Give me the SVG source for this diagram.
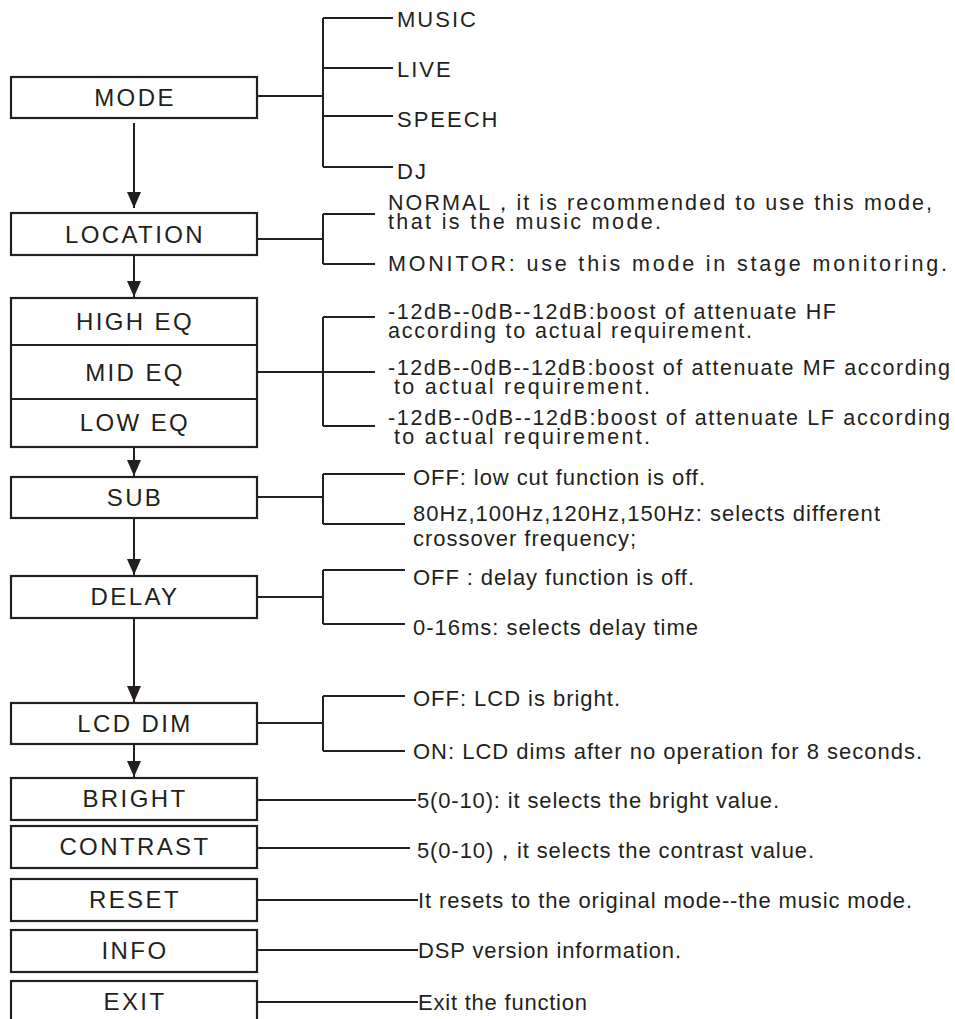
<svg xmlns="http://www.w3.org/2000/svg" width="955" height="1019" viewBox="0 0 955 1019">
<defs>
<marker id="ah" markerUnits="userSpaceOnUse" markerWidth="16" markerHeight="18" refX="16" refY="7" orient="auto">
<path d="M0,0 L16,7 L0,14 Z" fill="#231f20"/>
</marker>
<style>
.box{fill:#fff;stroke:#231f20;stroke-width:2.2}
.ln{fill:none;stroke:#231f20;stroke-width:2}
.lbl{font-family:"Liberation Sans",Arial,sans-serif;font-size:24px;letter-spacing:2.4px;fill:#231f20;text-anchor:middle}
.opt{font-family:"Liberation Sans",Arial,sans-serif;font-size:22px;letter-spacing:2px;fill:#231f20}
.t1{font-family:"Liberation Sans",Arial,sans-serif;font-size:21.5px;fill:#231f20}
.t2{font-family:"Liberation Sans",Arial,sans-serif;font-size:22px;fill:#231f20}
</style>
</defs>
<rect width="955" height="1019" fill="#fff"/>

<g id="connectors">
<path class="ln" d="M134,123 V208" marker-end="url(#ah)"/>
<path class="ln" d="M134,255 V297" marker-end="url(#ah)"/>
<path class="ln" d="M134,447 V476" marker-end="url(#ah)"/>
<path class="ln" d="M134,518 V575" marker-end="url(#ah)"/>
<path class="ln" d="M134,618 V702" marker-end="url(#ah)"/>
<path class="ln" d="M134,744 V777" marker-end="url(#ah)"/>

<path class="ln" d="M257,96 H323 M323,18 V167 M323,18 H393 M323,68 H393 M323,116 H393 M323,167 H393"/>
<path class="ln" d="M257,239 H323 M323,214 V264 M323,214 H375 M323,264 H375"/>
<path class="ln" d="M257,372 H375 M323,317 V426 M323,317 H375 M323,426 H375"/>
<path class="ln" d="M257,497 H323 M323,474 V524 M323,474 H405 M323,524 H405"/>
<path class="ln" d="M257,597 H323 M323,570 V624 M323,570 H405 M323,624 H405"/>
<path class="ln" d="M257,723 H323 M323,696 V751 M323,696 H405 M323,751 H405"/>
<path class="ln" d="M257,800 H416"/>
<path class="ln" d="M257,848 H410"/>
<path class="ln" d="M257,900 H418"/>
<path class="ln" d="M257,950 H418"/>
<path class="ln" d="M257,1002 H418"/>
</g>

<g id="mode">
<rect class="box" x="11" y="77" width="246" height="41"/>
<text class="lbl" x="135" y="106">MODE</text>
<text class="opt" x="397" y="27">MUSIC</text>
<text class="opt" x="397" y="77">LIVE</text>
<text class="opt" x="397" y="127">SPEECH</text>
<text class="opt" x="397" y="179">DJ</text>
</g>

<g id="location">
<rect class="box" x="11" y="213" width="246" height="42"/>
<text class="lbl" x="135" y="243">LOCATION</text>
<text class="t1" x="388" y="210" textLength="544">NORMAL，it is recommended to use this mode,</text>
<text class="t1" x="388" y="229" textLength="273">that is the music mode.</text>
<text class="t1" x="388" y="271" textLength="559">MONITOR: use this mode in stage monitoring.</text>
</g>

<g id="eq">
<rect class="box" x="11" y="298" width="246" height="149"/>
<path class="ln" d="M11,345 H257 M11,399 H257"/>
<text class="lbl" x="135" y="330">HIGH EQ</text>
<text class="lbl" x="135" y="381">MID EQ</text>
<text class="lbl" x="135" y="431">LOW EQ</text>
<text class="t1" x="388" y="319" textLength="448">-12dB--0dB--12dB:boost of attenuate HF</text>
<text class="t1" x="388" y="338" textLength="364">according to actual requirement.</text>
<text class="t1" x="388" y="375" textLength="562">-12dB--0dB--12dB:boost of attenuate MF according</text>
<text class="t1" x="394" y="394" textLength="256">to actual requirement.</text>
<text class="t1" x="388" y="425" textLength="562">-12dB--0dB--12dB:boost of attenuate LF according</text>
<text class="t1" x="394" y="444" textLength="256">to actual requirement.</text>
</g>

<g id="sub">
<rect class="box" x="11" y="477" width="246" height="41"/>
<text class="lbl" x="135" y="506">SUB</text>
<text class="t2" x="413" y="485" textLength="292">OFF: low cut function is off.</text>
<text class="t2" x="413" y="521" textLength="467">80Hz,100Hz,120Hz,150Hz: selects different</text>
<text class="t2" x="413" y="546" textLength="223">crossover frequency;</text>
</g>

<g id="delay">
<rect class="box" x="11" y="576" width="246" height="42"/>
<text class="lbl" x="135" y="605">DELAY</text>
<text class="t2" x="413" y="585" textLength="281">OFF : delay function is off.</text>
<text class="t2" x="413" y="635" textLength="285">0-16ms: selects delay time</text>
</g>

<g id="lcddim">
<rect class="box" x="11" y="703" width="246" height="41"/>
<text class="lbl" x="135" y="732">LCD DIM</text>
<text class="t2" x="413" y="706" textLength="207">OFF: LCD is bright.</text>
<text class="t2" x="413" y="759" textLength="509">ON: LCD dims after no operation for 8 seconds.</text>
</g>

<g id="bright">
<rect class="box" x="11" y="778" width="246" height="42"/>
<text class="lbl" x="135" y="807">BRIGHT</text>
<text class="t2" x="417" y="808" textLength="362">5(0-10): it selects the bright value.</text>
</g>

<g id="contrast">
<rect class="box" x="11" y="826" width="246" height="42"/>
<text class="lbl" x="135" y="855">CONTRAST</text>
<text class="t2" x="417" y="858" textLength="397">5(0-10)，it selects the contrast value.</text>
</g>

<g id="reset">
<rect class="box" x="11" y="879" width="246" height="42"/>
<text class="lbl" x="135" y="908">RESET</text>
<text class="t2" x="418" y="908" textLength="494">It resets to the original mode--the music mode.</text>
</g>

<g id="info">
<rect class="box" x="11" y="930" width="246" height="42"/>
<text class="lbl" x="135" y="959">INFO</text>
<text class="t2" x="418" y="958" textLength="263">DSP version information.</text>
</g>

<g id="exit">
<rect class="box" x="11" y="981" width="246" height="50"/>
<text class="lbl" x="135" y="1010">EXIT</text>
<text class="t2" x="418" y="1010" textLength="169">Exit the function</text>
</g>
</svg>
